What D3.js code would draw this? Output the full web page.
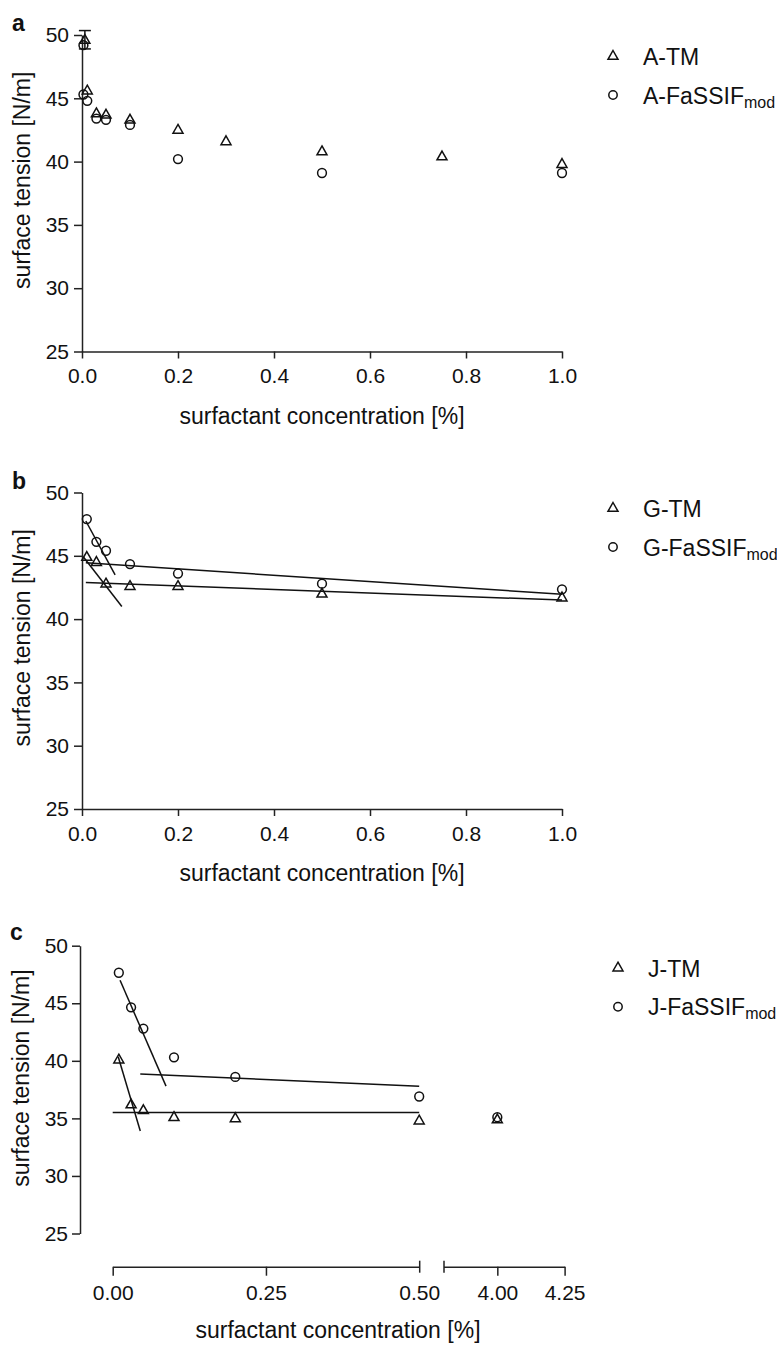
<!DOCTYPE html>
<html>
<head>
<meta charset="utf-8">
<script src="https://cdnjs.cloudflare.com/ajax/libs/d3/7.8.5/d3.min.js"></script>
<style>
body { margin: 0; background: #fff; }
svg { display: block; font-family: "Liberation Sans", Arial, sans-serif; }
.axis path, .axis line { stroke: #222; stroke-width: 1.5px; fill: none; }
.axis text { font-size: 21px; fill: #111; font-family: "Liberation Sans", Arial, sans-serif; }
.mark { fill: none; stroke: #111; stroke-width: 1.5px; }
.fit { stroke: #111; stroke-width: 1.5px; fill: none; }
</style>
</head>
<body>
<div id="vis"></div>
<script>
var width = 777,
    height = 1345;

// ---- tick values ----
var yTicks = [25, 30, 35, 40, 45, 50];
var xTicksAB = [0, 0.2, 0.4, 0.6, 0.8, 1.0];
var xTicksCLow = [0, 0.25, 0.5];
var xTicksCHigh = [4.0, 4.25];

// ---- panel a : [concentration, surface tension] ----
var aTM = [[0.006, 49.6], [0.011, 45.6], [0.03, 43.8], [0.05, 43.7], [0.1, 43.3],
           [0.2, 42.5], [0.3, 41.6], [0.5, 40.8], [0.75, 40.4], [1.0, 39.8]];
var aTMErr = [[0.006, 48.9, 50.35]];
var aFaSSIF = [[0.003, 49.2], [0.003, 45.3], [0.011, 44.8], [0.03, 43.4], [0.05, 43.3],
               [0.1, 42.9], [0.2, 40.2], [0.5, 39.1], [1.0, 39.1]];

// ---- panel b ----
var bTM = [[0.01, 44.9], [0.03, 44.5], [0.05, 42.8], [0.1, 42.6], [0.2, 42.6], [0.5, 42.0], [1.0, 41.7]];
var bFaSSIF = [[0.01, 47.9], [0.03, 46.1], [0.05, 45.4], [0.1, 44.35], [0.2, 43.6], [0.5, 42.8], [1.0, 42.35]];
// fit lines: [x1, y1, x2, y2]
var bTMFits = [[0.003, 44.9, 0.083, 41.0], [0.008, 42.9, 1.0, 41.5]];
var bFaSSIFFits = [[0.008, 47.75, 0.069, 43.5], [0.008, 44.45, 1.0, 41.96]];

// ---- panel c ----
var cTM = [[0.01, 40.1], [0.03, 36.2], [0.05, 35.7], [0.1, 35.1], [0.2, 35.0], [0.5, 34.8], [4.0, 34.9]];
var cFaSSIF = [[0.01, 47.65], [0.03, 44.65], [0.05, 42.8], [0.1, 40.3], [0.2, 38.6], [0.5, 36.9], [4.0, 35.1]];
var cTMFits = [[0.009, 40.36, 0.045, 33.9], [0.0, 35.5, 0.5, 35.5]];
var cFaSSIFFits = [[0.012, 47.0, 0.087, 37.8], [0.045, 38.85, 0.5, 37.8]];
var cBreakLow = [0, 0.5],
    cBreakHigh = [3.8, 4.25];

var svg = d3.select("#vis").append("svg")
    .attr("width", width)
    .attr("height", height);

svg.append("rect").attr("width", width).attr("height", height).attr("fill", "#fff");

var triPath = "M0,-5.5L5,3.3L-5,3.3Z";

function drawMarks(g, data, shape, xf, y) {
    if (shape === "tri") {
        g.selectAll(null).data(data).enter().append("path")
            .attr("class", "mark")
            .attr("d", triPath)
            .attr("transform", function(d) { return "translate(" + xf(d[0]) + "," + y(d[1]) + ")"; });
    } else {
        g.selectAll(null).data(data).enter().append("circle")
            .attr("class", "mark")
            .attr("r", 4.4)
            .attr("cx", function(d) { return xf(d[0]); })
            .attr("cy", function(d) { return y(d[1]); });
    }
}

function drawFits(g, fits, xf, y) {
    g.selectAll(null).data(fits).enter().append("line")
        .attr("class", "fit")
        .attr("x1", function(d) { return xf(d[0]); })
        .attr("y1", function(d) { return y(d[1]); })
        .attr("x2", function(d) { return xf(d[2]); })
        .attr("y2", function(d) { return y(d[3]); });
}

function drawLegend(g, lx, ly, prefix) {
    var rows = [{shape: "tri", text: prefix + "-TM", sub: ""},
                {shape: "circ", text: prefix + "-FaSSIF", sub: "mod"}];
    rows.forEach(function(r, i) {
        var yy = ly + i * 38.5;
        if (r.shape === "tri") {
            g.append("path").attr("class", "mark").attr("d", triPath)
                .attr("transform", "translate(" + lx + "," + (yy - 9) + ")");
        } else {
            g.append("circle").attr("class", "mark").attr("r", 4.2)
                .attr("cx", lx).attr("cy", yy - 8.5);
        }
        var t = g.append("text")
            .attr("x", lx + 30).attr("y", yy)
            .style("font-size", "23px").attr("fill", "#111")
            .text(r.text);
        if (r.sub) {
            t.append("tspan").attr("dy", 4).style("font-size", "16px").text(r.sub);
        }
    });
}

function yLabel(g, x, cy) {
    g.append("text")
        .attr("transform", "translate(" + x + "," + cy + ") rotate(-90)")
        .attr("text-anchor", "middle")
        .style("font-size", "23px").attr("fill", "#111")
        .text("surface tension [N/m]");
}

function xLabel(g, cx, y) {
    g.append("text")
        .attr("x", cx).attr("y", y)
        .attr("text-anchor", "middle")
        .style("font-size", "23px").attr("fill", "#111")
        .text("surfactant concentration [%]");
}

function panelLetter(g, ch, x, y) {
    g.append("text").attr("x", x).attr("y", y)
        .style("font-size", "23px").style("font-weight", "bold").attr("fill", "#111")
        .text(ch);
}

//--------PANELS A and B--------//
function drawAB(cfg) {
    var g = svg.append("g");
    var x = d3.scaleLinear().domain([0, 1]).range([82, 562]);
    var y = d3.scaleLinear().domain([25, 50]).range([cfg.bottom, cfg.top]);

    g.append("g").attr("class", "axis")
        .attr("transform", "translate(82,0)")
        .call(d3.axisLeft(y).tickValues(yTicks).tickSize(8).tickSizeOuter(0).tickPadding(5));
    g.append("g").attr("class", "axis")
        .attr("transform", "translate(0," + cfg.bottom + ")")
        .call(d3.axisBottom(x).tickValues(xTicksAB).tickSize(7).tickSizeOuter(0).tickPadding(10)
            .tickFormat(d3.format(".1f")));

    if (cfg.fits) {
        cfg.fits.forEach(function(f) { drawFits(g, f, x, y); });
    }
    if (cfg.err) {
        cfg.err.forEach(function(e) {
            var cx = x(e[0]);
            g.append("line").attr("class", "fit").attr("x1", cx).attr("x2", cx)
                .attr("y1", y(e[1])).attr("y2", y(e[2]));
            [e[1], e[2]].forEach(function(v) {
                g.append("line").attr("class", "fit").attr("x1", cx - 6).attr("x2", cx + 6)
                    .attr("y1", y(v)).attr("y2", y(v));
            });
        });
    }
    drawMarks(g, cfg.tm, "tri", x, y);
    drawMarks(g, cfg.fassif, "circ", x, y);

    panelLetter(g, cfg.letter, 12, cfg.top - 4);
    yLabel(g, 30, (cfg.top + cfg.bottom) / 2 - 13);
    xLabel(g, 322, cfg.bottom + 72);
    drawLegend(g, 613, cfg.legendY, cfg.prefix);
}

drawAB({letter: "a", prefix: "A", top: 35, bottom: 351.5, legendY: 65,
        tm: aTM, fassif: aFaSSIF, err: aTMErr});
drawAB({letter: "b", prefix: "G", top: 492.5, bottom: 809, legendY: 517,
        tm: bTM, fassif: bFaSSIF, fits: [bTMFits, bFaSSIFFits]});

//--------PANEL C (broken x axis)--------//
(function() {
    var g = svg.append("g");
    var top = 945.7, bottom = 1233.5, axisY = 1266.7;
    var xLow = d3.scaleLinear().domain(cBreakLow).range([112.7, 419.2]);
    var xHigh = d3.scaleLinear().domain(cBreakHigh).range([443.5, 564.6]);
    var xf = function(v) { return v <= cBreakLow[1] ? xLow(v) : xHigh(v); };
    var y = d3.scaleLinear().domain([25, 50]).range([bottom, top]);

    g.append("g").attr("class", "axis")
        .attr("transform", "translate(80,0)")
        .call(d3.axisLeft(y).tickValues(yTicks).tickSize(8).tickSizeOuter(0).tickPadding(4));

    var ax1 = g.append("g").attr("class", "axis")
        .attr("transform", "translate(0," + axisY + ")")
        .call(d3.axisBottom(xLow).tickValues(xTicksCLow).tickSize(9).tickSizeOuter(0).tickPadding(9)
            .tickFormat(d3.format(".2f")));
    var ax2 = g.append("g").attr("class", "axis")
        .attr("transform", "translate(0," + axisY + ")")
        .call(d3.axisBottom(xHigh).tickValues([cBreakHigh[0]].concat(xTicksCHigh)).tickSize(9)
            .tickSizeOuter(0).tickPadding(9)
            .tickFormat(function(d) { return d === cBreakHigh[0] ? "" : d3.format(".2f")(d); }));
    // break markers cross the axis line
    ax1.selectAll(".tick").filter(function(d) { return d === cBreakLow[1]; })
        .select("line").attr("y1", -6).attr("y2", 6);
    ax2.selectAll(".tick").filter(function(d) { return d === cBreakHigh[0]; })
        .select("line").attr("y1", -6).attr("y2", 6);

    drawFits(g, cTMFits, xf, y);
    drawFits(g, cFaSSIFFits, xf, y);
    drawMarks(g, cTM, "tri", xf, y);
    drawMarks(g, cFaSSIF, "circ", xf, y);

    panelLetter(g, "c", 10, 940);
    yLabel(g, 29, 1078);
    xLabel(g, 338, axisY + 71);
    drawLegend(g, 618, 976.7, "J");
})();
</script>
</body>
</html>
